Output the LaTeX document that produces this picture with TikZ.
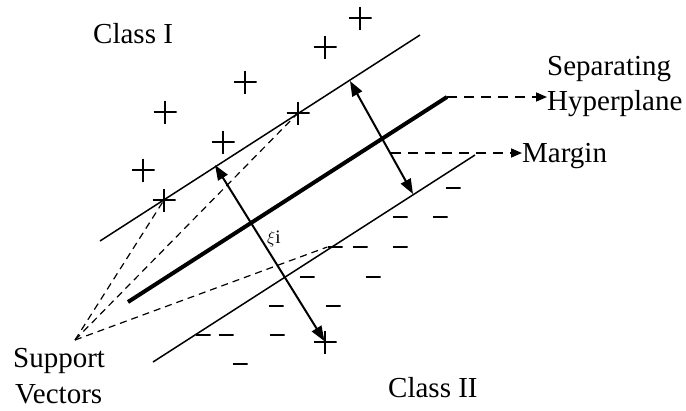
\documentclass[tikz,border=0pt]{standalone}
\usepackage{fontspec}
\setmainfont{Liberation Serif}
\usetikzlibrary{arrows.meta}
\tikzset{
  lbl/.style={inner sep=0pt, anchor=base west, font=\fontsize{29}{33}\selectfont},
  plusmark/.style={minimum size=23pt, inner sep=0pt,
    path picture={\draw[line width=1.4pt] (path picture bounding box.north) -- (path picture bounding box.south)
      (path picture bounding box.west) -- (path picture bounding box.east);}},
  minusmark/.style={minimum width=15pt, minimum height=4pt, inner sep=0pt,
    path picture={\draw[line width=2pt] (path picture bounding box.west) -- (path picture bounding box.east);}},
  marginline/.style={line width=1.5pt},
  hyperline/.style={line width=4pt},
  dimarrow/.style={line width=2pt, {Triangle[length=15pt,width=11pt]}-{Triangle[length=15pt,width=11pt]}},
  callout/.style={line width=1.6pt, dash pattern=on 10pt off 7pt, -{Triangle[length=11pt,width=9pt]}},
  svline/.style={line width=1.2pt, dash pattern=on 7pt off 5pt},
}
\begin{document}
\begin{tikzpicture}[x=1pt,y=-1pt]
\useasboundingbox (0,0) rectangle (686,410);
% lines
\coordinate (u1) at (100,241); \coordinate (u2) at (420,35);
\coordinate (h1) at (128,302); \coordinate (h2) at (447,97);
\coordinate (l1) at (153,362); \coordinate (l2) at (475,155);
\draw[marginline] (u1) -- (u2);
\draw[hyperline] (h1) -- (h2);
\draw[marginline] (l1) -- (l2);
% pluses
\node[plusmark] (p1) at (360,18) {};
\node[plusmark] (p2) at (325,47) {};
\node[plusmark] (p3) at (245,82) {};
\node[plusmark] (p4) at (165,112) {};
\node[plusmark] (p5) at (298,113) {};
\node[plusmark] (p6) at (223,142) {};
\node[plusmark] (p7) at (143,170) {};
\node[plusmark] (p8) at (164,200) {};
\node[plusmark] (p9) at (325,342) {};
% minuses
\node[minusmark] (m1) at (453,188) {};
\node[minusmark] (m2) at (400,217) {};
\node[minusmark] (m3) at (440,217) {};
\node[minusmark] (m4) at (335,247) {};
\node[minusmark] (m5) at (360,247) {};
\node[minusmark] (m6) at (400,247) {};
\node[minusmark] (m7) at (307,277) {};
\node[minusmark] (m8) at (373,277) {};
\node[minusmark] (m9) at (276,306) {};
\node[minusmark] (m10) at (333,306) {};
\node[minusmark] (m11) at (203,335) {};
\node[minusmark] (m12) at (226,335) {};
\node[minusmark] (m13) at (277,335) {};
\node[minusmark] (m14) at (240,364) {};
% texts
\node[lbl] (c1) at (93,43) {Class I};
\node[lbl] (c2) at (388,397) {Class II};
\node[lbl] (sep) at (547,75) {Separating};
\node[lbl] (hyp) at (547,110) {Hyperplane};
\node[lbl] (mar) at (522,162) {Margin};
\node[lbl] (sup) at (13,367) {Support};
\node[lbl] (vec) at (15,403) {Vectors};
\node[inner sep=0pt, anchor=base west, font=\fontsize{19}{19}\selectfont] (xi) at (267,243) {$\xi$i};
% arrows
\coordinate (ma1) at (350,81); \coordinate (ma2) at (413,194);
\draw[dimarrow] (ma1) -- (ma2);
\coordinate (xa1) at (215,165);
\draw[dimarrow, shorten >=1pt] (xa1) -- (p9.center);
\draw[callout] (h2) -- (h2 -| hyp.west);
\coordinate (ms) at (391,153);
\draw[callout] (ms) -- (ms -| mar.west);
% support vector lines
\coordinate (sv) at (75,340);
\draw[svline] (sv) -- (p8.center);
\draw[svline] (sv) -- (p5.center);
\draw[svline] (sv) -- (m4.west);
\end{tikzpicture}
\end{document}
